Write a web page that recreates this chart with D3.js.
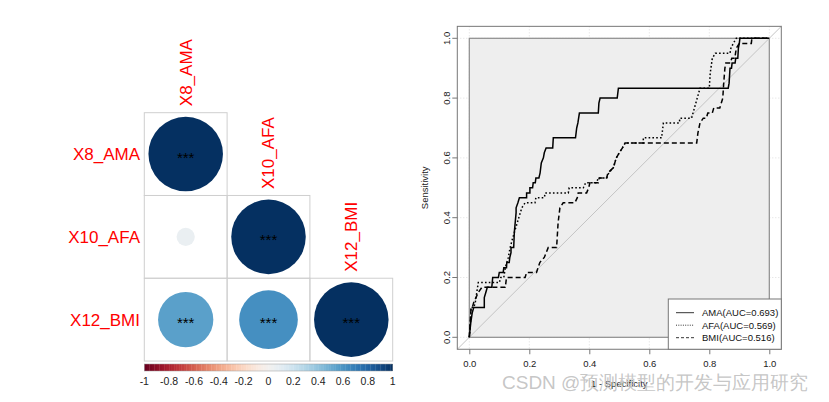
<!DOCTYPE html>
<html><head><meta charset="utf-8">
<script src="https://cdn.jsdelivr.net/npm/d3@7/dist/d3.min.js"></script>
<style>body{margin:0;background:#fff}svg{display:block}text{font-family:"Liberation Sans",Arial,sans-serif}</style>
</head><body>
<svg id="c" width="829" height="402"></svg>
<script>
// ---- correlation data ----
const vars = ["X8_AMA", "X10_AFA", "X12_BMI"];
const corrValues = [
  [1.00, 0.06, 0.55],
  [0.06, 1.00, 0.62],
  [0.55, 0.62, 1.00]
];
const sigMarks = [
  ["***", "", "***"],
  ["", "***", "***"],
  ["***", "***", "***"]
];
const colorbarTicks = [-1, -0.8, -0.6, -0.4, -0.2, 0, 0.2, 0.4, 0.6, 0.8, 1];

// ---- ROC data: [1 - specificity, sensitivity] ----
const rocNames = ["AMA(AUC=0.693)", "AFA(AUC=0.569)", "BMI(AUC=0.516)"];
const rocAMA = [[0,0],[0.005,0.05],[0.01,0.083],[0.015,0.1],[0.05,0.1],[0.05,0.133],[0.055,0.15],[0.06,0.167],[0.075,0.167],[0.078,0.2],[0.097,0.2],[0.1,0.217],[0.113,0.217],[0.115,0.233],[0.124,0.233],[0.125,0.25],[0.133,0.25],[0.135,0.267],[0.139,0.283],[0.139,0.3],[0.148,0.3],[0.15,0.35],[0.156,0.417],[0.156,0.433],[0.162,0.45],[0.167,0.467],[0.191,0.467],[0.191,0.483],[0.202,0.483],[0.202,0.5],[0.211,0.5],[0.213,0.517],[0.22,0.517],[0.222,0.533],[0.232,0.533],[0.236,0.55],[0.24,0.583],[0.247,0.6],[0.25,0.617],[0.256,0.633],[0.278,0.633],[0.28,0.667],[0.354,0.667],[0.358,0.7],[0.362,0.717],[0.367,0.75],[0.43,0.75],[0.432,0.783],[0.436,0.8],[0.493,0.8],[0.497,0.833],[0.863,0.833],[0.866,0.85],[0.869,0.9],[0.874,0.9],[0.876,0.917],[0.886,0.917],[0.888,0.933],[0.895,0.933],[0.897,0.967],[0.9,0.983],[0.902,1.0],[1,1]];
const rocAFA = [[0,0],[0.004,0.05],[0.006,0.1],[0.015,0.1],[0.02,0.117],[0.025,0.15],[0.03,0.183],[0.1,0.183],[0.105,0.2],[0.115,0.2],[0.12,0.233],[0.13,0.267],[0.136,0.3],[0.145,0.333],[0.155,0.367],[0.165,0.4],[0.175,0.433],[0.186,0.45],[0.219,0.45],[0.222,0.467],[0.25,0.467],[0.253,0.483],[0.33,0.483],[0.333,0.5],[0.38,0.5],[0.388,0.517],[0.424,0.517],[0.43,0.533],[0.458,0.533],[0.465,0.55],[0.48,0.567],[0.49,0.6],[0.5,0.617],[0.51,0.633],[0.52,0.65],[0.58,0.65],[0.58,0.667],[0.641,0.667],[0.647,0.717],[0.7,0.717],[0.702,0.733],[0.741,0.733],[0.755,0.783],[0.769,0.833],[0.8,0.833],[0.803,0.883],[0.81,0.933],[0.82,0.95],[0.869,0.95],[0.872,0.967],[0.88,0.983],[0.89,1.0],[1,1]];
const rocBMI = [[0,0],[0.003,0.05],[0.006,0.1],[0.01,0.1],[0.015,0.117],[0.03,0.15],[0.042,0.167],[0.12,0.167],[0.124,0.2],[0.186,0.2],[0.191,0.217],[0.224,0.217],[0.235,0.25],[0.25,0.267],[0.263,0.3],[0.291,0.3],[0.296,0.383],[0.302,0.433],[0.313,0.45],[0.352,0.45],[0.36,0.467],[0.363,0.483],[0.391,0.483],[0.398,0.5],[0.402,0.517],[0.43,0.517],[0.433,0.533],[0.458,0.533],[0.462,0.55],[0.48,0.567],[0.49,0.6],[0.5,0.617],[0.51,0.633],[0.519,0.65],[0.758,0.65],[0.762,0.683],[0.769,0.717],[0.78,0.733],[0.79,0.733],[0.795,0.75],[0.81,0.75],[0.815,0.767],[0.835,0.767],[0.845,0.8],[0.848,0.85],[0.852,0.9],[0.855,0.917],[0.87,0.917],[0.875,0.933],[0.885,0.933],[0.89,0.967],[0.9,0.983],[0.94,0.983],[0.942,1.0],[1,1]];
const rocTicks = [0, 0.2, 0.4, 0.6, 0.8, 1.0];
const watermark = "CSDN @预测模型的开发与应用研究";

const svg = d3.select("#c");
const color = v => d3.interpolateRdBu((v + 1) / 2);

// ================= corrplot =================
const bx = d3.scaleBand().domain(vars).range([144.3, 392.7]);
const by = d3.scaleBand().domain(vars).range([112.7, 361]);
const cw = bx.bandwidth();
const cp = svg.append("g");
const cells = [];
vars.forEach((rv, i) => vars.forEach((cv, j) => { if (j <= i) cells.push({i, j, r: corrValues[i][j], s: sigMarks[i][j]}); }));
cp.selectAll("rect.cell").data(cells).join("rect")
  .attr("x", d => bx(vars[d.j])).attr("y", d => by(vars[d.i]))
  .attr("width", cw).attr("height", cw)
  .attr("fill", "none").attr("stroke", "#cfcfcf").attr("stroke-width", 1);
cp.selectAll("circle").data(cells).join("circle")
  .attr("cx", d => bx(vars[d.j]) + cw / 2).attr("cy", d => by(vars[d.i]) + cw / 2)
  .attr("r", d => 0.45 * cw * Math.sqrt(Math.abs(d.r)))
  .attr("fill", d => color(d.r));
cp.selectAll("text.sig").data(cells.filter(d => d.s)).join("text")
  .attr("x", d => bx(vars[d.j]) + cw / 2).attr("y", d => by(vars[d.i]) + cw / 2 + 8.5)
  .attr("text-anchor", "middle").attr("font-size", 15).attr("fill", "#000").text(d => d.s);
// row labels
cp.selectAll("text.rl").data(vars).join("text")
  .attr("x", 140).attr("y", d => by(d) + cw / 2).attr("dy", "0.35em")
  .attr("text-anchor", "end").attr("font-size", 17).attr("fill", "red").text(d => d);
// column labels (above diagonal)
cp.selectAll("text.cl").data(vars).join("text")
  .attr("transform", d => `translate(${bx(d) + cw / 2},${by(d) - 6.5}) rotate(-90)`)
  .attr("dy", "0.35em").attr("text-anchor", "start").attr("font-size", 17).attr("fill", "red").text(d => d);
// colorbar
const cbx = d3.scaleLinear().domain([-1, 1]).range([144.3, 392.7]);
const nSteps = 100;
const steps = d3.range(nSteps).map(k => -1 + 2 * k / nSteps);
cp.selectAll("rect.cb").data(steps).join("rect")
  .attr("x", d => cbx(d)).attr("y", 364).attr("width", cbx(-1 + 2 / nSteps) - cbx(-1) + 0.3).attr("height", 7)
  .attr("fill", d => color(d + 1 / nSteps));
cp.append("rect").attr("x", cbx(-1)).attr("y", 364).attr("width", cbx(1) - cbx(-1)).attr("height", 7)
  .attr("fill", "none").attr("stroke", "#9a9a9a").attr("stroke-width", 0.5);
cp.selectAll("text.cbt").data(colorbarTicks).join("text")
  .attr("x", d => cbx(d)).attr("y", 381).attr("dy", "0.35em").attr("text-anchor", "middle")
  .attr("font-size", 10.5).attr("fill", "#222").text(d => String(d));

// ================= ROC =================
const x = d3.scaleLinear().domain([0, 1]).range([469.3, 769.3]);
const y = d3.scaleLinear().domain([0, 1]).range([337.3, 38.3]);
const rg = svg.append("g");
const x0 = x(-0.04), x1 = x(1.04), y0 = y(-0.04), y1 = y(1.04);
// grid
rg.selectAll("line.gx").data(rocTicks).join("line")
  .attr("x1", d => x(d)).attr("x2", d => x(d)).attr("y1", y1).attr("y2", y0)
  .attr("stroke", "#dddddd").attr("stroke-dasharray", "1,2");
rg.selectAll("line.gy").data(rocTicks).join("line")
  .attr("y1", d => y(d)).attr("y2", d => y(d)).attr("x1", x0).attr("x2", x1)
  .attr("stroke", "#dddddd").attr("stroke-dasharray", "1,2");
// max AUC polygon
rg.append("rect").attr("x", x(0)).attr("y", y(1)).attr("width", x(1) - x(0)).attr("height", y(0) - y(1))
  .attr("fill", "#eeeeee").attr("stroke", "#8c8c8c").attr("stroke-width", 1.2);
// diagonal
rg.append("line").attr("x1", x0).attr("y1", y0).attr("x2", x1).attr("y2", y1)
  .attr("stroke", "#c4c4c4").attr("stroke-width", 1);
// curves
const line = d3.line().x(d => x(d[0])).y(d => y(d[1]));
const series = [
  {name: rocNames[0], data: rocAMA, dash: null},
  {name: rocNames[1], data: rocAFA, dash: "1.6,2.2"},
  {name: rocNames[2], data: rocBMI, dash: "5,3"}
];
rg.selectAll("path.roc").data(series).join("path")
  .attr("d", d => line(d.data)).attr("fill", "none").attr("stroke", "#000")
  .attr("stroke-width", 1.5).attr("stroke-dasharray", d => d.dash);
// box
rg.append("rect").attr("x", x0).attr("y", y1).attr("width", x1 - x0).attr("height", y0 - y1)
  .attr("fill", "none").attr("stroke", "#777").attr("stroke-width", 1);
// axes
const xa = rg.append("g").attr("transform", `translate(0,${y0})`)
  .call(d3.axisBottom(x).tickValues(rocTicks).tickFormat(d3.format(".1f")).tickSize(5).tickPadding(6));
const ya = rg.append("g").attr("transform", `translate(${x0},0)`)
  .call(d3.axisLeft(y).tickValues(rocTicks).tickFormat(d3.format(".1f")).tickSize(5).tickPadding(0));
[xa, ya].forEach(a => { a.select(".domain").remove(); a.selectAll("line").attr("stroke", "#777");
  a.selectAll("text").attr("font-size", 9.5).attr("fill", "#222").attr("font-family", '"Liberation Sans",Arial,sans-serif'); });
ya.selectAll("text").attr("text-anchor", "middle").attr("dy", "0")
  .attr("transform", d => `translate(-11,${y(d)}) rotate(-90)`).attr("x", 0).attr("y", 0)
  .attr("dominant-baseline", "central");
ya.selectAll(".tick").attr("transform", null);
ya.selectAll(".tick line").attr("transform", d => `translate(0,${y(d)})`);
rg.append("text").attr("transform", `translate(425,${(y(0) + y(1)) / 2}) rotate(-90)`)
  .attr("text-anchor", "middle").attr("dy", "0.35em").attr("font-size", 9.5).attr("fill", "#222").text("Sensitivity");
rg.append("text").attr("x", (x(0) + x(1)) / 2).attr("y", 384).attr("dy", "0.35em")
  .attr("text-anchor", "middle").attr("font-size", 9.5).attr("fill", "#222").text("1 - Specificity");
// legend
const lg = rg.append("g");
lg.append("rect").attr("x", 668.3).attr("y", 299).attr("width", x1 - 668.3).attr("height", y0 - 299)
  .attr("fill", "#fff").attr("stroke", "#777").attr("stroke-width", 1);
const ly = d3.scalePoint().domain(rocNames).range([312.7, 337.7]);
lg.selectAll("line.lg").data(series).join("line")
  .attr("x1", 676).attr("x2", 694).attr("y1", d => ly(d.name)).attr("y2", d => ly(d.name))
  .attr("stroke", "#000").attr("stroke-width", 0.8).attr("stroke-dasharray", d => d.dash ? (d.dash === "5,3" ? "3,2" : "1,1.3") : null);
lg.selectAll("text.lg").data(series).join("text")
  .attr("x", 702).attr("y", d => ly(d.name)).attr("dy", "0.35em")
  .attr("font-size", 9.5).attr("fill", "#111").text(d => d.name);

// watermark
svg.append("text").attr("x", 502).attr("y", 389).attr("font-size", 19)
  .attr("font-family", '"Noto Sans CJK SC","Noto Sans",sans-serif').attr("font-weight", 300)
  .attr("fill", "#bfbfbf").attr("fill-opacity", 0.9).text(watermark);
</script>
</body></html>
